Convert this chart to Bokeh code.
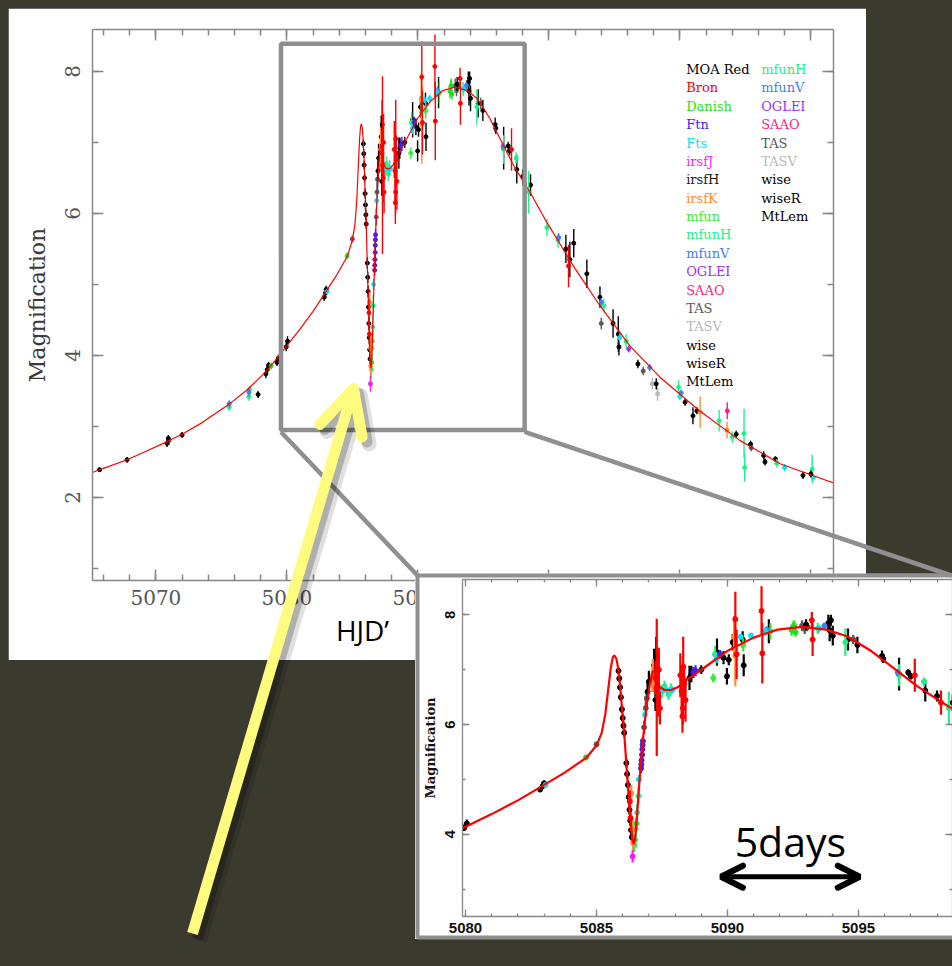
from bokeh.plotting import figure
from bokeh.layouts import column
from bokeh.models import (Range1d, LinearAxis, SingleIntervalTicker, BoxAnnotation,
                          Arrow, OpenHead, Label, ColumnDataSource)
from bokeh.core.properties import value
from bokeh.embed import file_html
from bokeh.resources import INLINE

# ------------------------------------------------------------------ data
# best-fit model light curve (HJD' , magnification)
MODEL_HJD = [5065.0, 5066.0, 5067.8, 5069.0, 5070.9, 5072.0, 5073.5, 5075.5, 5077.0, 5078.5,
             5079.84, 5081.0, 5082.0, 5082.89, 5083.8, 5084.62, 5085.0, 5085.2, 5085.34, 5085.45,
             5085.55, 5085.62, 5085.68, 5085.76, 5085.83, 5085.90, 5085.97, 5086.05, 5086.13, 5086.21,
             5086.29, 5086.36, 5086.42, 5086.48, 5086.55, 5086.63, 5086.72, 5086.82, 5086.93, 5087.05,
             5087.15, 5087.22, 5087.3, 5087.42, 5087.6, 5087.85, 5088.1, 5088.46, 5089.12, 5089.99,
             5090.98, 5091.91, 5092.84, 5093.77, 5094.56, 5095.49, 5096.42, 5097.21, 5098.01, 5098.65,
             5099.7, 5101.9, 5103.9, 5106.2, 5108.5, 5111.5, 5114.6, 5117.7, 5121.8]
MODEL_MAG = [2.34, 2.41, 2.53, 2.63, 2.79, 2.89, 3.05, 3.30, 3.52, 3.79,
             4.10, 4.37, 4.62, 4.87, 5.13, 5.40, 5.62, 5.85, 6.20, 6.65,
             7.05, 7.22, 7.26, 7.20, 7.02, 6.72, 6.32, 5.90, 5.35, 4.82,
             4.30, 3.95, 3.82, 3.95, 4.35, 4.90, 5.45, 5.95, 6.40, 6.78,
             6.97, 6.97, 6.82, 6.68, 6.63, 6.63, 6.68, 6.82, 7.04, 7.34,
             7.58, 7.73, 7.78, 7.73, 7.61, 7.34, 7.00, 6.71, 6.46, 6.27,
             5.92, 5.25, 4.70, 4.13, 3.69, 3.22, 2.80, 2.47, 2.20]

# observations per observatory: (HJD', magnification, error)
MOA_RED = [(5065.7, 2.39, 0.03), (5067.8, 2.53, 0.04), (5070.85, 2.76, 0.05), (5070.95, 2.83, 0.05),
           (5072.0, 2.88, 0.04), (5077.8, 3.45, 0.05), (5078.4, 3.74, 0.06), (5078.5, 3.80, 0.06),
           (5078.6, 3.86, 0.05), (5079.25, 3.90, 0.05), (5079.35, 3.96, 0.05), (5079.95, 4.12, 0.06),
           (5080.05, 4.20, 0.07), (5082.85, 4.82, 0.05), (5082.95, 4.88, 0.05), (5083.0, 4.93, 0.05),
           (5085.84, 6.98, 0.06), (5085.87, 6.84, 0.06), (5085.90, 6.68, 0.06), (5085.93, 6.50, 0.06),
           (5085.97, 6.28, 0.07), (5086.00, 6.12, 0.07), (5086.03, 5.98, 0.07), (5086.06, 5.85, 0.07),
           (5086.14, 5.30, 0.08), (5086.17, 5.10, 0.08), (5086.20, 4.90, 0.08), (5086.23, 4.68, 0.08),
           (5086.26, 4.45, 0.09), (5086.29, 4.25, 0.09), (5086.32, 4.08, 0.10), (5086.35, 3.95, 0.10),
           (5086.95, 6.60, 0.15), (5087.00, 6.78, 0.20), (5087.15, 6.85, 0.25), (5087.20, 7.08, 0.30),
           (5087.25, 6.45, 0.20), (5087.28, 7.25, 0.35), (5088.55, 6.85, 0.22), (5088.62, 6.92, 0.15),
           (5089.60, 7.32, 0.25), (5089.85, 7.22, 0.12), (5089.98, 6.88, 0.15), (5090.05, 7.18, 0.10),
           (5090.20, 7.50, 0.15), (5090.58, 7.55, 0.15), (5090.62, 7.08, 0.20), (5091.58, 7.70, 0.22),
           (5093.00, 7.82, 0.10), (5093.85, 7.85, 0.15), (5093.90, 7.72, 0.20), (5093.95, 7.90, 0.10),
           (5094.02, 7.62, 0.18), (5094.60, 7.55, 0.20), (5094.96, 7.45, 0.15), (5095.90, 7.25, 0.10),
           (5096.55, 6.92, 0.30), (5096.90, 6.95, 0.06), (5097.55, 6.62, 0.20), (5098.00, 6.52, 0.10),
           (5098.60, 6.40, 0.15), (5101.3, 5.50, 0.20), (5101.6, 5.35, 0.25), (5101.9, 5.58, 0.20),
           (5102.9, 5.15, 0.20), (5103.9, 4.82, 0.15), (5104.9, 4.45, 0.20), (5105.3, 4.30, 0.25),
           (5105.35, 4.12, 0.12), (5106.8, 3.88, 0.06), (5108.2, 3.60, 0.08), (5110.4, 3.34, 0.05),
           (5111.0, 3.15, 0.12), (5111.3, 3.22, 0.05), (5114.3, 2.89, 0.05), (5115.4, 2.75, 0.05),
           (5116.4, 2.59, 0.06), (5116.5, 2.50, 0.05), (5117.3, 2.54, 0.04), (5119.4, 2.31, 0.05)]
BRON = [(5086.27, 4.60, 0.20), (5086.30, 4.30, 0.15), (5087.30, 6.68, 1.25), (5087.35, 6.50, 0.35),
        (5087.25, 6.85, 0.30), (5087.42, 6.30, 0.30), (5087.38, 7.00, 0.40), (5088.20, 6.90, 0.40),
        (5088.25, 6.60, 0.45), (5088.30, 6.30, 0.30), (5088.31, 7.05, 0.55), (5088.35, 6.75, 0.35),
        (5088.40, 6.45, 0.40), (5088.28, 6.15, 0.30), (5090.30, 7.92, 0.50), (5090.35, 7.28, 0.45),
        (5091.30, 8.07, 0.45), (5091.33, 7.30, 0.55), (5093.22, 7.90, 0.15), (5093.25, 7.55, 0.30),
        (5097.15, 6.90, 0.30), (5098.15, 6.40, 0.22), (5101.5, 5.26, 0.30)]
DANISH = [(5078.8, 3.85, 0.05), (5084.6, 5.40, 0.05), (5086.47, 3.90, 0.10), (5086.52, 4.20, 0.10),
          (5092.45, 7.72, 0.10), (5092.55, 7.80, 0.10), (5092.60, 7.68, 0.08)]
FTN = [(5086.70, 5.20, 0.08), (5086.71, 5.27, 0.06), (5086.72, 5.35, 0.08), (5086.74, 5.45, 0.08),
       (5086.75, 5.55, 0.08), (5086.76, 5.63, 0.08), (5086.77, 5.70, 0.08),
       (5088.70, 6.95, 0.10), (5088.78, 6.98, 0.10), (5089.72, 7.28, 0.08)]
FTS = [(5083.05, 4.90, 0.04), (5086.62, 5.00, 0.08), (5086.85, 6.18, 0.08), (5087.45, 6.62, 0.05),
       (5087.70, 6.62, 0.05), (5087.90, 6.63, 0.05), (5089.59, 7.20, 0.08), (5090.50, 7.60, 0.05),
       (5090.90, 7.62, 0.05), (5091.45, 7.70, 0.06), (5093.50, 7.75, 0.06), (5105.4, 4.25, 0.06),
       (5110.0, 3.42, 0.05), (5118.0, 2.42, 0.05), (5120.2, 2.28, 0.05)]
IRSF_J = [(5086.38, 3.60, 0.11)]
IRSF_H = [(5089.00, 7.00, 0.08)]
IRSF_K = [(5086.33, 4.75, 0.15), (5086.38, 4.10, 0.20), (5086.40, 3.85, 0.15), (5087.15, 6.90, 0.30),
          (5090.25, 7.60, 0.38), (5090.30, 7.25, 0.55), (5111.55, 3.20, 0.22), (5113.6, 2.95, 0.12)]
MFUN = [(5089.46, 6.85, 0.08), (5090.60, 7.45, 0.12), (5091.64, 7.70, 0.15), (5092.50, 7.78, 0.10)]
MFUN_H = [(5075.6, 3.27, 0.05), (5077.1, 3.42, 0.06), (5077.15, 3.52, 0.05), (5086.45, 3.80, 0.12),
          (5086.50, 4.10, 0.15), (5086.55, 4.40, 0.15), (5086.60, 4.70, 0.15), (5087.50, 6.60, 0.12),
          (5087.60, 6.70, 0.10), (5087.75, 6.55, 0.10), (5087.85, 6.65, 0.10), (5089.52, 7.28, 0.15),
          (5093.45, 7.75, 0.10), (5094.50, 7.50, 0.25), (5096.55, 6.90, 0.20), (5097.50, 6.78, 0.08),
          (5098.45, 6.30, 0.30), (5099.85, 5.80, 0.12), (5100.7, 5.62, 0.10), (5104.2, 4.70, 0.10),
          (5105.9, 4.20, 0.10), (5109.9, 3.55, 0.10), (5113.0, 3.08, 0.15), (5114.0, 2.85, 0.08),
          (5114.9, 2.90, 0.35), (5114.95, 2.42, 0.20), (5117.4, 2.48, 0.06), (5120.1, 2.40, 0.20)]
MFUN_V = [(5075.6, 3.32, 0.05), (5077.1, 3.48, 0.05), (5091.50, 7.73, 0.06), (5093.70, 7.80, 0.06),
          (5096.50, 6.95, 0.06), (5100.75, 5.66, 0.06), (5104.0, 4.75, 0.06), (5107.7, 3.83, 0.05),
          (5110.1, 3.47, 0.05)]
OGLE_I = [(5106.1, 4.09, 0.05)]
SAAO = [(5113.62, 3.22, 0.12)]
TAS = [(5071.0, 2.80, 0.06), (5085.0, 5.64, 0.05), (5086.82, 5.95, 0.12), (5086.88, 6.30, 0.15),
       (5086.92, 6.48, 0.15), (5092.85, 7.80, 0.10), (5092.95, 7.75, 0.10), (5093.05, 7.78, 0.08),
       (5094.80, 7.55, 0.08), (5104.0, 4.45, 0.08), (5107.2, 3.78, 0.06), (5115.45, 2.70, 0.05)]
TASV = [(5108.3, 3.46, 0.10), (5107.9, 3.60, 0.08)]
WISE = [(5095.95, 7.20, 0.08)]
WISE_R = [(5097.00, 6.88, 0.06)]
MT_LEM = [(5120.0, 2.33, 0.05)]

SERIES = [("TASV", TASV), ("TAS", TAS), ("MOA Red", MOA_RED), ("mfunH", MFUN_H), ("mfun", MFUN),
          ("Danish", DANISH), ("mfunV", MFUN_V), ("Fts", FTS), ("Ftn", FTN), ("OGLEI", OGLE_I),
          ("irsfH", IRSF_H), ("irsfK", IRSF_K), ("SAAO", SAAO), ("irsfJ", IRSF_J), ("wise", WISE),
          ("wiseR", WISE_R), ("MtLem", MT_LEM), ("Bron", BRON)]

SERIES_COLORS = {"MOA Red": "#000000", "Bron": "#ff0000", "Danish": "#1fe01f", "Ftn": "#3c1ff0",
                 "Fts": "#00e6f2", "irsfJ": "#f21ff0", "irsfH": "#1a1a1a", "irsfK": "#ff8c2e",
                 "mfun": "#33ef33", "mfunH": "#1ff08a", "mfunV": "#3f7ff2", "OGLEI": "#9b34f0",
                 "SAAO": "#ff1c7c", "TAS": "#585858", "TASV": "#b8b8b8", "wise": "#000000",
                 "wiseR": "#000000", "MtLem": "#000000"}

LEGEND_COL1 = ["MOA Red", "Bron", "Danish", "Ftn", "Fts", "irsfJ", "irsfH", "irsfK", "mfun",
               "mfunH", "mfunV", "OGLEI", "SAAO", "TAS", "TASV", "wise", "wiseR", "MtLem"]
LEGEND_COL2 = ["mfunH", "mfunV", "OGLEI", "SAAO", "TAS", "TASV", "wise", "wiseR", "MtLem"]

ZOOM_BOX = dict(left=5079.55, right=5098.15, bottom=2.95, top=8.39)
SCALE_BAR_START = 5089.75
SCALE_BAR_DAYS = 5.3
SCALE_BAR_MAG = 3.23

# ------------------------------------------------------------------ geometry (window pixels)
BG = "#3b3a2f"
GREY = "#8f8f8f"
WIN_W, WIN_H = 952, 966
BL, BR = 84, 33                      # common left/right borders (plots in a column share them)

# main panel
X0, X1, Y0, Y1 = 5065.16, 5121.73, 0.83, 8.59
M_LEFT, M_TOP = 8, 8
MW, MH = 858, 652
MT, MB = 21, 80
M_FRAME_L = M_LEFT + BL
M_FRAME_W = MW - BL - BR
M_FRAME_T = M_TOP + MT
M_FRAME_H = MH - MT - MB

# inset panel
IX0, IX1, IY0, IY1 = 5079.885, 5098.59, 2.505, 8.643
I_FRAME_L, I_FRAME_W = 462, 490
I_TOP, IH, IT, IB = 573, 366, 6, 23
I_LEFT = I_FRAME_L - BL
IW = BL + I_FRAME_W + BR
PANEL_L = 415                        # visible left edge of the inset's white panel
I_FRAME_T = I_TOP + IT
I_FRAME_H = IH - IT - IB


def main_px(x):
    return M_FRAME_L + (x - X0) / (X1 - X0) * M_FRAME_W


def main_py(y):
    return M_FRAME_T + (Y1 - y) / (Y1 - Y0) * M_FRAME_H


def main_y_of_py(py):
    return Y1 - (py - M_FRAME_T) / M_FRAME_H * (Y1 - Y0)


def main_x_of_px(px):
    return X0 + (px - M_FRAME_L) / M_FRAME_W * (X1 - X0)


def inset_y_of_py(py):
    return IY1 - (py - I_FRAME_T) / I_FRAME_H * (IY1 - IY0)


def add_axes(p, xint, xminor, yint, yminor, tick_font, tick_size, tick_color, tick_style,
             maj_in, min_in, line_w, xstand, ystand):
    left_axis = None
    for side in ("below", "left", "above", "right"):
        if side in ("below", "above"):
            ax = LinearAxis(ticker=SingleIntervalTicker(interval=xint, num_minor_ticks=xminor))
        else:
            ax = LinearAxis(ticker=SingleIntervalTicker(interval=yint, num_minor_ticks=yminor))
        ax.axis_line_color = "#878787"
        ax.axis_line_width = line_w
        ax.major_tick_line_color = "#878787"
        ax.minor_tick_line_color = "#878787"
        ax.major_tick_line_width = line_w
        ax.minor_tick_line_width = line_w
        ax.major_tick_in = maj_in
        ax.major_tick_out = 0
        ax.minor_tick_in = min_in
        ax.minor_tick_out = 0
        if side in ("below", "left"):
            ax.major_label_text_font = tick_font
            ax.major_label_text_font_size = tick_size
            ax.major_label_text_color = tick_color
            ax.major_label_text_font_style = tick_style
            ax.major_label_standoff = xstand if side == "below" else ystand
            if side == "left":
                ax.major_label_orientation = "vertical"
                left_axis = ax
        else:
            ax.major_label_text_color = None
            ax.major_label_text_font_size = "5px"
            ax.major_label_standoff = 0
        p.add_layout(ax, side)
    return left_axis


def add_data(p, msize, ewidth):
    for name, pts in SERIES:
        c = SERIES_COLORS[name]
        src = ColumnDataSource(dict(x=[q[0] for q in pts], y=[q[1] for q in pts],
                                    lo=[q[1] - q[2] for q in pts], hi=[q[1] + q[2] for q in pts]))
        p.segment(x0="x", y0="lo", x1="x", y1="hi", source=src, line_color=c, line_width=ewidth)
        p.scatter(x="x", y="y", source=src, marker="circle", size=msize,
                  fill_color=c, line_color=c)


# ------------------------------------------------------------------ main plot
main = figure(width=MW, height=MH, x_range=Range1d(X0, X1), y_range=Range1d(Y0, Y1),
              x_axis_type=None, y_axis_type=None, toolbar_location=None, output_backend="svg",
              title=None, min_border_left=BL, min_border_right=BR, min_border_top=MT,
              min_border_bottom=MB)
main.background_fill_color = "white"
main.border_fill_color = "white"
main.outline_line_color = None
left = add_axes(main, 10, 5, 2, 2, "DejaVu Serif", "20px", "#555555", "normal",
                11, 6, 1.5, 9, 12)
left.axis_label = "Magnification"
left.axis_label_text_font = "DejaVu Serif"
left.axis_label_text_font_size = "22px"
left.axis_label_text_font_style = "normal"
left.axis_label_text_color = "#3a3a3a"
left.axis_label_standoff = 13

add_data(main, 4, 1.4)
main.line(MODEL_HJD, MODEL_MAG, line_color="#ff0000", line_width=1.2)

# legend (text only, coloured per observatory)
LEG_TOP_PX, LEG_STEP_PX = 69.0, 18.38
leg_x1, leg_x2 = main_x_of_px(685.7), main_x_of_px(760.7)
names = LEGEND_COL1 + LEGEND_COL2
lx = [leg_x1] * len(LEGEND_COL1) + [leg_x2] * len(LEGEND_COL2)
ly = ([main_y_of_py(LEG_TOP_PX + i * LEG_STEP_PX) for i in range(len(LEGEND_COL1))] +
      [main_y_of_py(LEG_TOP_PX + i * LEG_STEP_PX) for i in range(len(LEGEND_COL2))])
lc = [SERIES_COLORS[n] for n in names]
main.text(x="x", y="y", text="t", text_color="c",
          source=ColumnDataSource(dict(x=lx, y=ly, t=names, c=lc)),
          text_font=value("DejaVu Serif"), text_font_size=value("13px"),
          text_baseline="middle", text_align="left")

main.add_layout(BoxAnnotation(left=ZOOM_BOX["left"], right=ZOOM_BOX["right"],
                              bottom=ZOOM_BOX["bottom"], top=ZOOM_BOX["top"],
                              fill_alpha=0, fill_color=None, line_color=GREY,
                              line_alpha=1.0, line_width=4.5))
main.margin = (M_TOP, 0, 0, M_LEFT)

# ------------------------------------------------------------------ inset
inset = figure(width=IW, height=IH, x_range=Range1d(IX0, IX1), y_range=Range1d(IY0, IY1),
               x_axis_type=None, y_axis_type=None, toolbar_location=None, output_backend="svg",
               title=None, min_border_left=BL, min_border_right=BR, min_border_top=IT,
               min_border_bottom=IB)
inset.background_fill_color = "white"
inset.border_fill_color = "white"
inset.outline_line_color = None
ileft = add_axes(inset, 5, 5, 2, 2, "Liberation Sans", "15px", "#111111", "bold",
                 7, 3, 1.3, 6, 7)
ileft.axis_label = "Magnification"
ileft.axis_label_text_font = "DejaVu Serif"
ileft.axis_label_text_font_size = "13px"
ileft.axis_label_text_font_style = "bold"
ileft.axis_label_text_color = "#111111"
ileft.axis_label_standoff = 5

add_data(inset, 5, 2.2)
inset.line(MODEL_HJD, MODEL_MAG, line_color="#ff0000", line_width=2.2)

inset.add_layout(Arrow(x_start=SCALE_BAR_START, y_start=SCALE_BAR_MAG,
                       x_end=SCALE_BAR_START + SCALE_BAR_DAYS, y_end=SCALE_BAR_MAG,
                       line_color="black", line_width=5,
                       start=OpenHead(size=22, line_width=6, line_color="black", line_cap="round"),
                       end=OpenHead(size=22, line_width=6, line_color="black", line_cap="round")))
inset.add_layout(Label(x=SCALE_BAR_START + SCALE_BAR_DAYS / 2, y=inset_y_of_py(840),
                       text="5days", text_font="Open Sans", text_font_size="41px",
                       text_color="black", text_align="center", text_baseline="alphabetic"))
inset.margin = (I_TOP - (M_TOP + MH), 0, 0, I_LEFT)
inset.styles = {"clip-path": "inset(0px 0px 0px %dpx)" % (PANEL_L - I_LEFT)}

# ------------------------------------------------------------------ overlay (slide marks)
OV_W = WIN_W + BR                    # frame spans window x = BL .. WIN_W
ov = figure(width=OV_W, height=WIN_H, x_range=Range1d(BL, WIN_W),
            y_range=Range1d(WIN_H, 0), x_axis_type=None, y_axis_type=None,
            toolbar_location=None, output_backend="svg", title=None,
            min_border_left=BL, min_border_right=BR, min_border_top=0, min_border_bottom=0)
ov.background_fill_color = None
ov.border_fill_color = None
ov.outline_line_color = None

bx_l = PANEL_L + 2
bx_t = I_TOP + 2
bx_b = I_TOP + IH - 2
bx_r = WIN_W - 1
ov.line([WIN_W + 20, bx_l, bx_l, WIN_W + 20], [bx_t, bx_t, bx_b, bx_b],
        line_color=GREY, line_width=4)

zx0, zx1 = main_px(ZOOM_BOX["left"]), main_px(ZOOM_BOX["right"])
zy0 = main_py(ZOOM_BOX["bottom"]) + 2
ov.segment(x0=[zx0, zx1], y0=[zy0, zy0], x1=[bx_l, bx_r], y1=[bx_t, bx_t],
           line_color=GREY, line_width=4.5)

ov.add_layout(Label(x=362, y=629, text="HJD\u2019", text_font="Open Sans",
                    text_font_size="28px", text_color="black",
                    text_align="center", text_baseline="alphabetic"))

# pointer arrow with a soft shadow
TAIL, TIP = (192, 933), (353, 388)
for dx, dy, w, a in ((7, 7, 15, 0.12), (5, 5, 11, 0.22)):
    ov.add_layout(Arrow(x_start=TAIL[0] + dx, y_start=TAIL[1] + dy, x_end=TIP[0] + dx,
                        y_end=TIP[1] + dy, line_color="black", line_alpha=a, line_width=w,
                        end=OpenHead(size=44, line_width=w, line_color="black", line_alpha=a,
                                     line_cap="round", line_join="round")))
ov.add_layout(Arrow(x_start=TAIL[0], y_start=TAIL[1], x_end=TIP[0], y_end=TIP[1],
                    line_color="#fefc7f", line_width=11,
                    end=OpenHead(size=44, line_width=11, line_color="#fefc7f",
                                 line_cap="round", line_join="round")))
ov.margin = (-(I_TOP + IH), 0, 0, 0)

root = column(main, inset, ov, spacing=0)
html = file_html(root, INLINE, title="Light curve")
html = html.replace("</head>",
                    "<style>html, body { background-color: %s; overflow: hidden; }</style></head>" % BG,
                    1)
open("out.html", "w").write(html)
